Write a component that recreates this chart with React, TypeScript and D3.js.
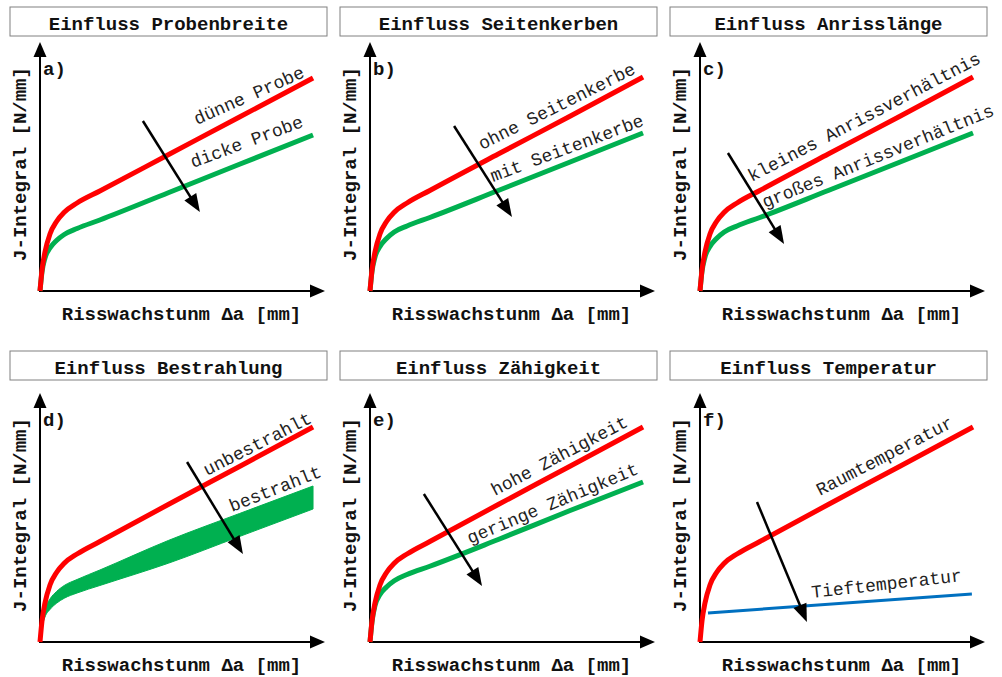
import React from 'react'
import * as d3 from 'd3'

// Risswachstum (relative units, 0..100 along the axis)
const DA = [0, 0.7, 1.75, 3.5, 5.8, 8.5, 13, 21, 45, 70, 95.8]

// J-Integral values (relative units, 0..100 along the axis)
const A_DUENN = [0, 8.4, 15.6, 22.8, 27.8, 31.5, 35.2, 40.0, 54.5, 69.6, 85.2]
const A_DICK = [0, 7.6, 13.2, 17.2, 20.2, 22.6, 25.0, 28.4, 39.3, 50.7, 62.4]

const B_OHNE = [0, 8.4, 15.6, 22.8, 27.8, 31.5, 35.2, 40.2, 54.8, 69.8, 85.6]
const B_MIT = [0, 7.8, 13.6, 17.8, 21.0, 23.6, 26.0, 29.4, 40.2, 51.5, 63.2]

const C_KLEIN = [0, 8.4, 15.6, 22.8, 27.8, 31.5, 35.2, 40.2, 54.8, 69.8, 85.6]
const C_GROSS = [0, 7.8, 13.6, 17.8, 21.0, 23.6, 26.0, 29.4, 40.2, 51.5, 63.2]

const D_UNBESTR = [0, 8.4, 15.6, 22.8, 27.8, 31.5, 35.2, 40.2, 55.0, 70.2, 86.0]
const D_BESTR_OBEN = [0, 7.6, 13.2, 17.2, 20.2, 22.6, 25.0, 28.8, 40.6, 51.4, 62.4]
const D_BESTR_UNTEN = [0, 5.8, 10.0, 13.0, 15.5, 17.5, 19.6, 22.6, 31.5, 42.2, 53.2]

const E_HOCH = [0, 8.4, 15.6, 22.8, 27.8, 31.5, 35.2, 40.2, 55.0, 70.2, 86.0]
const E_GERING = [0, 8.0, 14.5, 19.0, 22.0, 24.5, 27.0, 30.3, 41.0, 52.5, 64.0]

const F_RAUM = [0, 8.4, 15.6, 22.8, 27.8, 31.5, 35.2, 40.2, 55.0, 70.2, 86.0]
const F_TIEF_DA = [2.8, 95.4]
const F_TIEF = [11.6, 19.2]

const RED = '#ff0000'
const GREEN = '#00b050'
const BLUE = '#0070c0'

const COL_X = [40, 370, 700]
const ROW_Y = [291, 642]
const BOX_Y = [7, 351]

const MONO = '"Liberation Mono", "DejaVu Sans Mono", monospace'

type Series = { xs: number[]; ys: number[]; color: string; width: number }
type Label = { text: string; x: number; y: number; angle: number }
type Panel = {
  letter: string
  title: string
  col: number
  row: number
  band?: { xs: number[]; top: number[]; bottom: number[]; color: string }
  series: Series[]
  arrow: [number, number, number, number]
  labels: Label[]
}

const panels: Panel[] = [
  {
    letter: 'a)', title: 'Einfluss Probenbreite', col: 0, row: 0,
    series: [
      { xs: DA, ys: A_DICK, color: GREEN, width: 5 },
      { xs: DA, ys: A_DUENN, color: RED, width: 5 },
    ],
    arrow: [36.1, 68, 56.1, 31.6],
    labels: [
      { text: 'dünne Probe', x: 55.1, y: 66.4, angle: -24 },
      { text: 'dicke Probe', x: 53.7, y: 49.2, angle: -20.5 },
    ],
  },
  {
    letter: 'b)', title: 'Einfluss Seitenkerben', col: 1, row: 0,
    series: [
      { xs: DA, ys: B_MIT, color: GREEN, width: 5 },
      { xs: DA, ys: B_OHNE, color: RED, width: 5 },
    ],
    arrow: [29.5, 66, 49.8, 29.6],
    labels: [
      { text: 'ohne Seitenkerbe', x: 39.3, y: 56.4, angle: -26.5 },
      { text: 'mit Seitenkerbe', x: 43.2, y: 43.6, angle: -20.5 },
    ],
  },
  {
    letter: 'c)', title: 'Einfluss Anrisslänge', col: 2, row: 0,
    series: [
      { xs: DA, ys: C_GROSS, color: GREEN, width: 5 },
      { xs: DA, ys: C_KLEIN, color: RED, width: 5 },
    ],
    arrow: [9.8, 55.2, 29.5, 18.8],
    labels: [
      { text: 'kleines Anrissverhältnis', x: 18.2, y: 43.6, angle: -27.5 },
      { text: 'großes Anrissverhältnis', x: 22.8, y: 33.2, angle: -22 },
    ],
  },
  {
    letter: 'd)', title: 'Einfluss Bestrahlung', col: 0, row: 1,
    band: { xs: DA, top: D_BESTR_OBEN, bottom: D_BESTR_UNTEN, color: GREEN },
    series: [{ xs: DA, ys: D_UNBESTR, color: RED, width: 5 }],
    arrow: [51.6, 72, 71.2, 35.2],
    labels: [
      { text: 'unbestrahlt', x: 58.6, y: 66.4, angle: -27 },
      { text: 'bestrahlt', x: 67.4, y: 52, angle: -21.5 },
    ],
  },
  {
    letter: 'e)', title: 'Einfluss Zähigkeit', col: 1, row: 1,
    series: [
      { xs: DA, ys: E_GERING, color: GREEN, width: 5 },
      { xs: DA, ys: E_HOCH, color: RED, width: 5 },
    ],
    arrow: [18.9, 59.2, 39.3, 22.4],
    labels: [
      { text: 'hohe Zähigkeit', x: 43.9, y: 58.4, angle: -27.7 },
      { text: 'geringe Zähigkeit', x: 35.1, y: 39.2, angle: -22.6 },
    ],
  },
  {
    letter: 'f)', title: 'Einfluss Temperatur', col: 2, row: 1,
    series: [
      { xs: DA, ys: F_RAUM, color: RED, width: 5 },
      { xs: F_TIEF_DA, ys: F_TIEF, color: BLUE, width: 3 },
    ],
    arrow: [20, 56, 37.5, 8],
    labels: [
      { text: 'Raumtemperatur', x: 42.1, y: 58.4, angle: -27.4 },
      { text: 'Tieftemperatur', x: 39.3, y: 17.6, angle: -6.4 },
    ],
  },
]

// line with a filled triangle head, tip at (x2, y2)
function ArrowPath({ x1, y1, x2, y2, len, wid, sw }: { x1: number; y1: number; x2: number; y2: number; len: number; wid: number; sw: number }) {
  const a = Math.atan2(y2 - y1, x2 - x1)
  const bx = x2 - len * Math.cos(a)
  const by = y2 - len * Math.sin(a)
  const nx = -Math.sin(a) * wid / 2
  const ny = Math.cos(a) * wid / 2
  return (
    <g>
      <line x1={x1} y1={y1} x2={bx + Math.cos(a)} y2={by + Math.sin(a)} stroke="#000" strokeWidth={sw} />
      <polygon points={`${x2},${y2} ${bx + nx},${by + ny} ${bx - nx},${by - ny}`} fill="#000" />
    </g>
  )
}

function PanelView({ p }: { p: Panel }) {
  const ox = COL_X[p.col]
  const oy = ROW_Y[p.row]
  const by = BOX_Y[p.row]
  const x = d3.scaleLinear().domain([0, 100]).range([ox, ox + 285])
  const y = d3.scaleLinear().domain([0, 100]).range([oy, oy - 250])

  const line = (s: Series) =>
    d3.line<number>()
      .x((_, i) => x(s.xs[i]))
      .y((d) => y(d))
      .curve(d3.curveMonotoneX)(s.ys) || ''

  let bandPath = ''
  if (p.band) {
    const b = p.band
    bandPath = d3.area<number>()
      .x((_, i) => x(b.xs[i]))
      .y0((_, i) => y(b.bottom[i]))
      .y1((d) => y(d))
      .curve(d3.curveMonotoneX)(b.top) || ''
  }

  return (
    <g>
      <rect x={ox - 30} y={by} width={317} height={29} fill="#fff" stroke="#808080" strokeWidth={1} />
      <text x={ox + 128.5} y={by + 23} textAnchor="middle" fontFamily={MONO} fontWeight="bold" fontSize={19} fill="#111">
        {p.title}
      </text>

      {/* axes */}
      <ArrowPath x1={ox} y1={oy + 1} x2={ox} y2={oy - 249} len={15} wid={13} sw={2} />
      <ArrowPath x1={ox - 1} y1={oy} x2={ox + 285} y2={oy} len={15} wid={13} sw={2} />

      <text x={ox + 3} y={oy - 216} fontFamily={MONO} fontWeight="bold" fontSize={19} fill="#111">{p.letter}</text>
      <text x={ox + 141.5} y={oy + 29} textAnchor="middle" fontFamily={MONO} fontWeight="bold" fontSize={19} fill="#111">
        Risswachstunm Δa [mm]
      </text>
      <text transform={`translate(${ox - 14},${oy - 127}) rotate(-90)`} textAnchor="middle" fontFamily={MONO} fontWeight="bold" fontSize={19} fill="#111">
        J-Integral [N/mm]
      </text>

      {p.band && <path d={bandPath} fill={p.band.color} stroke={p.band.color} strokeWidth={1} />}
      {p.series.map((s, i) => (
        <path key={i} d={line(s)} fill="none" stroke={s.color} strokeWidth={s.width} strokeLinejoin="round" />
      ))}

      <ArrowPath x1={x(p.arrow[0])} y1={y(p.arrow[1])} x2={x(p.arrow[2])} y2={y(p.arrow[3])} len={18} wid={14} sw={2.5} />

      {p.labels.map((l, i) => (
        <text key={i} transform={`translate(${x(l.x)},${y(l.y)}) rotate(${l.angle})`} fontFamily={MONO} fontSize={18} fill="#222">
          {l.text}
        </text>
      ))}
    </g>
  )
}

export default function App() {
  return (
    <svg width={1002} height={677} style={{ position: 'absolute', left: 0, top: 0, background: '#fff' }}>
      <rect width={1002} height={677} fill="#fff" />
      {panels.map((p) => (
        <PanelView key={p.letter} p={p} />
      ))}
    </svg>
  )
}
